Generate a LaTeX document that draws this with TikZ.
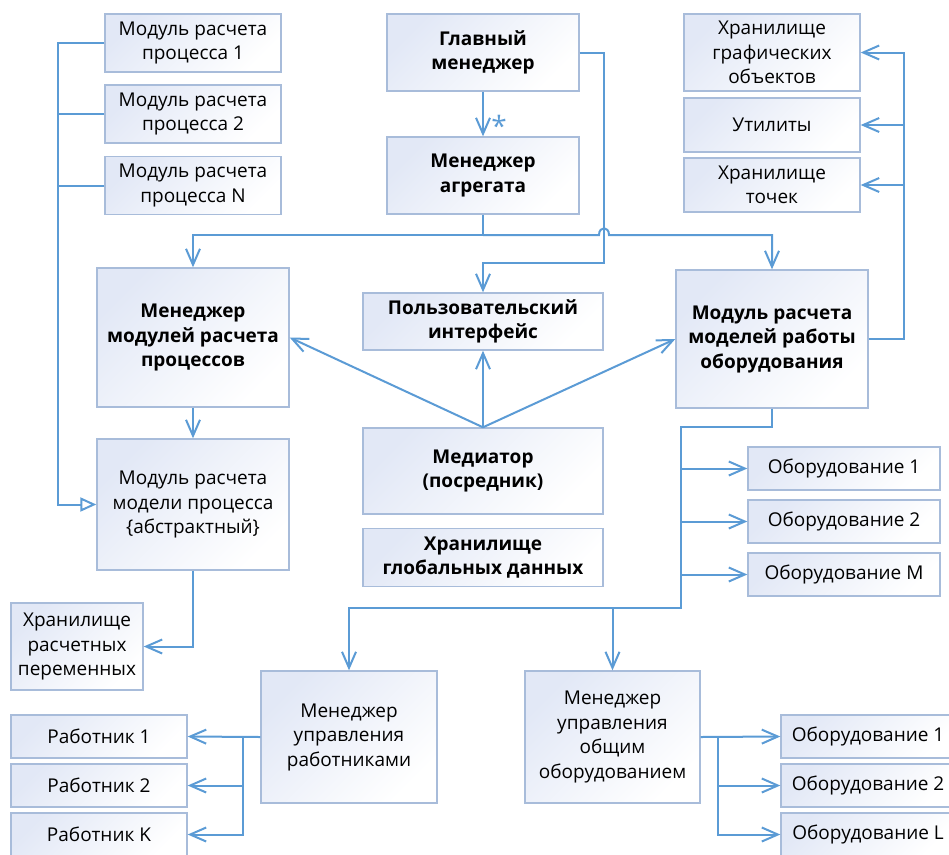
\documentclass[tikz,border=0pt]{standalone}
\usepackage{fontspec}
\setmainfont{Open Sans}
\usetikzlibrary{arrows.meta,positioning,calc}
\definecolor{linkblue}{RGB}{91,155,213}
\definecolor{frameblue}{RGB}{168,188,218}
\definecolor{paleblue}{RGB}{226,232,246}

\begin{document}
\begin{tikzpicture}[x=1pt, y=-1pt,
      box/.style={draw=frameblue, line width=1.4pt, top color=paleblue,
                  bottom color=white, shading angle=45, align=center,
                  inner sep=0pt, font=\fontsize{19}{24.5}\selectfont},
      boldbox/.style={box, font=\fontsize{19}{24.5}\selectfont\bfseries},
      wire/.style={draw=linkblue, line width=2pt},
      flow/.style={wire, -{Straight Barb[length=16pt,width=14pt]}},
      inherit/.style={wire, -{Triangle[open,length=16pt,width=14pt,fill=white]}}]
    \useasboundingbox (0,0) rectangle (949,854);
    % process modules (left column)
    \foreach \id/\yy/\num in {1/43/1, 2/114/2, n/185.5/N}{
      \node[box, minimum width=176pt, minimum height=58pt] (calc\id) at (193,\yy)
        {Модуль расчета\\процесса \num};
    }
    % top row
    \node[boldbox, minimum width=192pt, minimum height=77pt] (main) at (483,52.5) {Главный\\менеджер};
    \node[boldbox, minimum width=192pt, minimum height=77pt] (agg) at (483,175.5) {Менеджер\\агрегата};
    \node[box, minimum width=176pt, minimum height=77pt] (gfx) at (772,52.5) {Хранилище\\графических\\объектов};
    \node[box, minimum width=176pt, minimum height=54pt] (util) at (772,125) {Утилиты};
    \node[box, minimum width=176pt, minimum height=54pt] (pts) at (772,185) {Хранилище\\точек};
    % middle
    \node[boldbox, minimum width=192pt, minimum height=139pt] (mmgr) at (193,337.5) {Менеджер\\модулей расчета\\процессов};
    \node[box, minimum width=192pt, minimum height=131pt] (abst) at (193,504.5) {Модуль расчета\\модели процесса\\\{абстрактный\}};
    \node[box, minimum width=132pt, minimum height=87pt] (vars) at (77,646.5) {Хранилище\\расчетных\\переменных};
    \node[boldbox, minimum width=240pt, minimum height=57pt] (ui) at (483,321.5) {Пользовательский\\интерфейс};
    \node[boldbox, minimum width=240pt, minimum height=86pt] (med) at (483,471) {Медиатор\\(посредник)};
    \node[boldbox, minimum width=240pt, minimum height=58pt] (glob) at (483,557.5) {Хранилище\\глобальных данных};
    \node[boldbox, minimum width=192pt, minimum height=138pt] (eqmod) at (772,339) {Модуль расчета\\моделей работы\\оборудования};
    \foreach \id/\yy/\num in {1/468.5/1, 2/521.5/2, m/574.5/M}{
      \node[box, minimum width=192pt, minimum height=43pt] (eq\id) at (844,\yy) {Оборудование \num};
    }
    % bottom
    \node[box, minimum width=176pt, minimum height=132pt] (wmgr) at (349,737) {Менеджер\\управления\\работниками};
    \node[box, minimum width=175pt, minimum height=132pt] (smgr) at (612.5,737) {Менеджер\\управления\\общим\\оборудованием};
    \foreach \id/\yy/\num/\lbl in {1/736.5/1/1, 2/785.5/2/2, k/834.5/K/L}{
      \node[box, minimum width=176pt, minimum height=43pt] (wk\id) at (99,\yy) {Работник \num};
      \node[box, minimum width=174pt, minimum height=43pt] (sh\id) at (868,\yy) {Оборудование \lbl};
    }
    % bus points
    \coordinate (lbus) at (58,300);
    \coordinate (tbus) at (483,235);
    \coordinate (hopl) at (599,235);
    \coordinate (hopr) at (609,235);
    \coordinate (jog) at (604,263);
    \coordinate (rbus) at (904,52.5);
    \coordinate (ebus) at (681,427);
    \coordinate (ebot) at (681,608);
    \coordinate (wbus) at (243,737);
    \coordinate (sbus) at (718,737);
    % connectors
    \draw[inherit] (calc1.west) -| (lbus) |- (abst.west);
    \draw[wire] (calc2.west) -- (calc2.west -| lbus);
    \draw[wire] (calcn.west) -- (calcn.west -| lbus);
    \draw[flow] (main) -- (agg);
    \node[text=linkblue, font=\fontsize{28}{28}\selectfont] (star) at (499,126) {*};
    \draw[flow] (main.east) -| (jog) -| (ui.north);
    \draw[wire] (agg.south) -- (tbus);
    \draw[flow] (tbus) -- (hopl) .. controls ($(hopl)+(0,-9)$) and ($(hopr)+(0,-9)$) .. (hopr) -| (eqmod.north);
    \draw[flow] (tbus) -| (mmgr.north);
    \draw[flow] (mmgr) -- (abst);
    \draw[flow] (abst.south) |- (vars.east);
    \draw[flow] (med.north) -- (ui.south);
    \draw[flow] (med.north) -- (mmgr.east);
    \draw[flow] (med.north) -- (eqmod.west);
    \draw[flow] (eqmod.east) -| (rbus) -- (gfx.east);
    \draw[flow] (util.east -| rbus) -- (util.east);
    \draw[flow] (pts.east -| rbus) -- (pts.east);
    \draw[flow] (eqmod.south) |- (ebus) -- (ebot) -| (wmgr.north);
    \draw[flow] (smgr.north |- ebot) -- (smgr.north);
    \foreach \id in {1,2,m}{
      \draw[flow] (eq\id.west -| ebus) -- (eq\id.west);
    }
    \draw[flow] (wmgr.west) -- (wk1.east);
    \draw[flow] (smgr.east) -- (sh1.west);
    \foreach \id in {2,k}{
      \draw[flow] (wbus) |- (wk\id.east);
      \draw[flow] (sbus) |- (sh\id.west);
    }
\end{tikzpicture}
\end{document}
